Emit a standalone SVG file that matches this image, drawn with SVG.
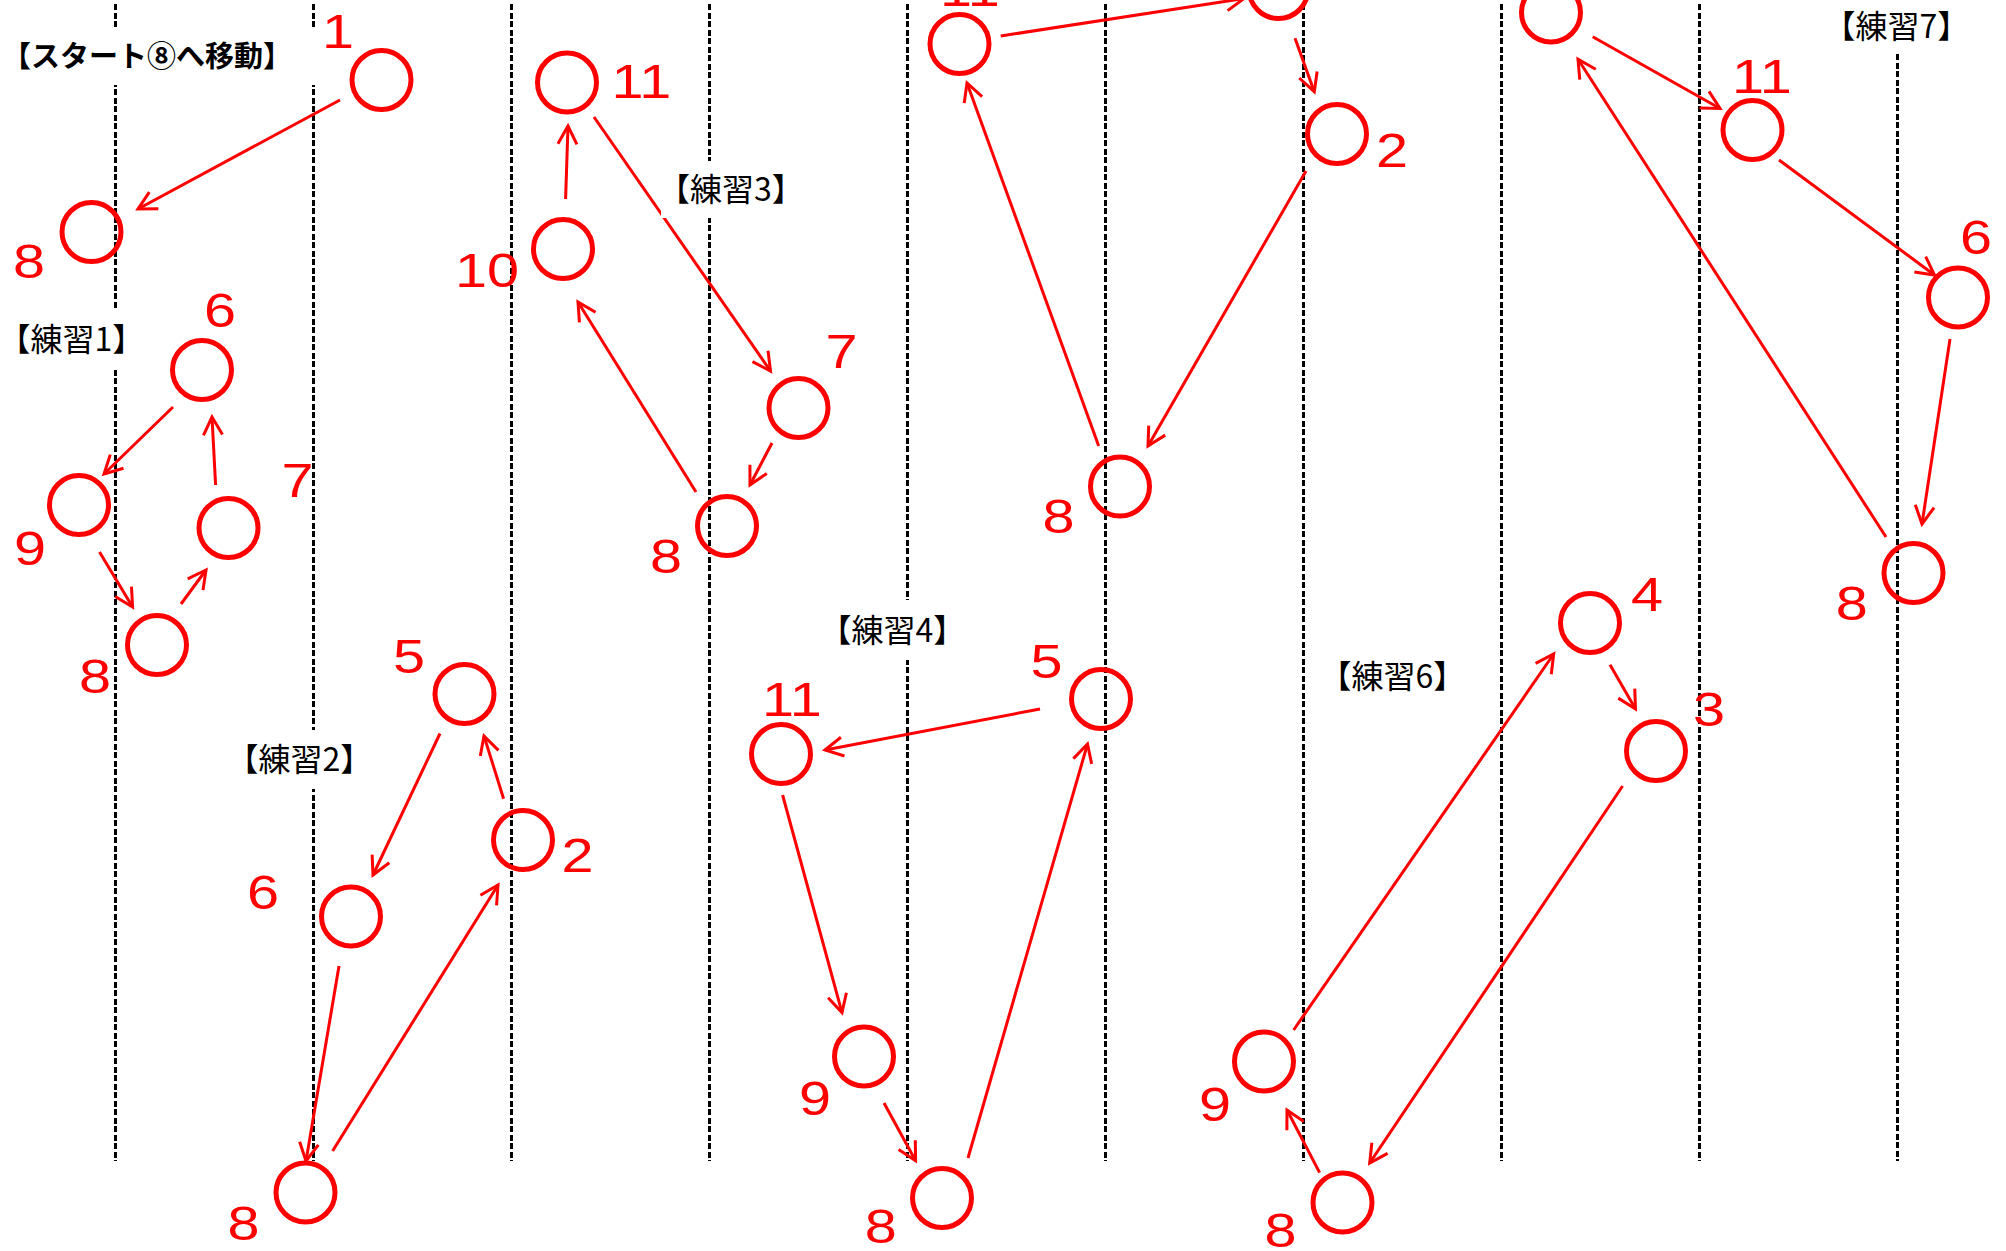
<svg xmlns="http://www.w3.org/2000/svg" width="2006" height="1251" viewBox="0 0 2006 1251">
<style>
.grid line{stroke:#000;stroke-width:3;stroke-dasharray:6 2.5;shape-rendering:crispEdges}
.conn line{stroke:#f00;stroke-width:3;fill:none;marker-end:url(#ah)}
.node circle{fill:none;stroke:#f00;stroke-width:5}
.lbl{font-family:"Liberation Sans",Arial,sans-serif;font-size:48px;fill:#f00;text-anchor:middle}
.ttl{font-family:"Noto Sans CJK JP","Noto Sans CJK SC",sans-serif;font-size:32px;fill:#000}
.bold{font-weight:bold;font-size:29px}
.box{fill:#fff}
</style>
<defs>
<marker id="ah" markerUnits="userSpaceOnUse" orient="auto" refX="0" refY="0" markerWidth="40" markerHeight="40" viewBox="-25 -20 40 40" overflow="visible">
<path d="M-18,-9.5 L0,0 L-18,9.5" fill="none" stroke="#f00" stroke-width="3"/>
</marker>
</defs>
<rect width="2006" height="1251" fill="#fff"/>
<g id="grid" class="grid">
<line x1="115.5" y1="4" x2="115.5" y2="1161"/>
<line x1="313.5" y1="4" x2="313.5" y2="1161"/>
<line x1="511.5" y1="4" x2="511.5" y2="1161"/>
<line x1="709.5" y1="4" x2="709.5" y2="1161"/>
<line x1="907.5" y1="4" x2="907.5" y2="1161"/>
<line x1="1105.5" y1="4" x2="1105.5" y2="1161"/>
<line x1="1303.5" y1="4" x2="1303.5" y2="1161"/>
<line x1="1501.5" y1="4" x2="1501.5" y2="1161"/>
<line x1="1699.5" y1="4" x2="1699.5" y2="1161"/>
<line x1="1897.5" y1="54" x2="1897.5" y2="1161"/>
</g>
<g id="connectors" class="conn">
<line x1="340" y1="100" x2="138" y2="209"/>
<line x1="173" y1="407" x2="104" y2="474"/>
<line x1="215.6" y1="485" x2="212" y2="417"/>
<line x1="99.5" y1="552" x2="132.6" y2="607"/>
<line x1="181" y1="604" x2="206" y2="570"/>
<line x1="440" y1="733.5" x2="373" y2="875"/>
<line x1="503.6" y1="798.7" x2="484" y2="736"/>
<line x1="339" y1="966" x2="306" y2="1161"/>
<line x1="332.6" y1="1151" x2="498" y2="885"/>
<line x1="565.6" y1="199" x2="568" y2="126"/>
<line x1="594" y1="117" x2="770.5" y2="371"/>
<line x1="772" y1="443" x2="750" y2="485"/>
<line x1="696" y1="492" x2="578" y2="302"/>
<line x1="1040" y1="709" x2="825" y2="750"/>
<line x1="782.6" y1="795" x2="842" y2="1012.6"/>
<line x1="884" y1="1103" x2="915.6" y2="1160.7"/>
<line x1="968" y1="1158" x2="1087.5" y2="744"/>
<line x1="1000.7" y1="36" x2="1244" y2="-1.5"/>
<line x1="1295" y1="38.3" x2="1314.3" y2="91.7"/>
<line x1="1306" y1="171" x2="1148" y2="446"/>
<line x1="1098.7" y1="446" x2="967" y2="83"/>
<line x1="1610" y1="664.7" x2="1635.5" y2="709"/>
<line x1="1622.6" y1="786" x2="1369.7" y2="1163"/>
<line x1="1319.6" y1="1172.6" x2="1287" y2="1110"/>
<line x1="1293.6" y1="1030" x2="1553.7" y2="654"/>
<line x1="1592.7" y1="36.7" x2="1720" y2="108.5"/>
<line x1="1779" y1="160" x2="1934.5" y2="275"/>
<line x1="1950" y1="339" x2="1922" y2="524"/>
<line x1="1886" y1="537" x2="1578" y2="59.3"/>
</g>
<g id="nodes">
<g id="start-1" class="node"><circle cx="381.5" cy="80" r="29.5"/><text class="lbl" transform="translate(338 48) scale(1.2 1)">1</text></g>
<g id="start-8" class="node"><circle cx="91.5" cy="232" r="29.5"/><text class="lbl" transform="translate(29 278) scale(1.2 1)">8</text></g>
<g id="p1-6" class="node"><circle cx="202" cy="370" r="29.5"/><text class="lbl" transform="translate(220 327) scale(1.2 1)">6</text></g>
<g id="p1-9" class="node"><circle cx="79" cy="505" r="29.5"/><text class="lbl" transform="translate(30 565) scale(1.2 1)">9</text></g>
<g id="p1-7" class="node"><circle cx="228.5" cy="528" r="29.5"/><text class="lbl" transform="translate(297.5 497) scale(1.2 1)">7</text></g>
<g id="p1-8" class="node"><circle cx="157" cy="645" r="29.5"/><text class="lbl" transform="translate(95 693) scale(1.2 1)">8</text></g>
<g id="p2-5" class="node"><circle cx="464.5" cy="694" r="29.5"/><text class="lbl" transform="translate(409 673) scale(1.2 1)">5</text></g>
<g id="p2-2" class="node"><circle cx="523" cy="840" r="29.5"/><text class="lbl" transform="translate(577.5 872) scale(1.2 1)">2</text></g>
<g id="p2-6" class="node"><circle cx="351" cy="916.5" r="29.5"/><text class="lbl" transform="translate(263 909) scale(1.2 1)">6</text></g>
<g id="p2-8" class="node"><circle cx="305.5" cy="1192.5" r="29.5"/><text class="lbl" transform="translate(243.5 1240) scale(1.2 1)">8</text></g>
<g id="p3-11" class="node"><circle cx="567" cy="82.5" r="29.5"/><text class="lbl" transform="translate(641.5 98) scale(1.2 1)">11</text></g>
<g id="p3-10" class="node"><circle cx="563" cy="249" r="29.5"/><text class="lbl" transform="translate(487 287) scale(1.2 1)">10</text></g>
<g id="p3-7" class="node"><circle cx="798.5" cy="408" r="29.5"/><text class="lbl" transform="translate(841.5 368) scale(1.2 1)">7</text></g>
<g id="p3-8" class="node"><circle cx="727" cy="526" r="29.5"/><text class="lbl" transform="translate(666 573) scale(1.2 1)">8</text></g>
<g id="p4-5" class="node"><circle cx="1101" cy="699" r="29.5"/><text class="lbl" transform="translate(1046.6 678) scale(1.2 1)">5</text></g>
<g id="p4-11" class="node"><circle cx="781" cy="754" r="29.5"/><text class="lbl" transform="translate(792 716) scale(1.2 1)">11</text></g>
<g id="p4-9" class="node"><circle cx="864" cy="1056.5" r="29.5"/><text class="lbl" transform="translate(815 1115) scale(1.2 1)">9</text></g>
<g id="p4-8" class="node"><circle cx="942" cy="1198" r="29.5"/><text class="lbl" transform="translate(880.7 1243) scale(1.2 1)">8</text></g>
<g id="p5-11" class="node"><circle cx="959.5" cy="44" r="29.5"/><text class="lbl" transform="translate(970 6) scale(1.2 1)">11</text></g>
<g id="p5-top" class="node"><circle cx="1278.5" cy="-11" r="29.5"/></g>
<g id="p5-2" class="node"><circle cx="1337" cy="134" r="29.5"/><text class="lbl" transform="translate(1392 167) scale(1.2 1)">2</text></g>
<g id="p5-8" class="node"><circle cx="1120" cy="486.5" r="29.5"/><text class="lbl" transform="translate(1058.5 533) scale(1.2 1)">8</text></g>
<g id="p6-4" class="node"><circle cx="1590" cy="623" r="29.5"/><text class="lbl" transform="translate(1647 611) scale(1.2 1)">4</text></g>
<g id="p6-3" class="node"><circle cx="1656" cy="751" r="29.5"/><text class="lbl" transform="translate(1709 726) scale(1.2 1)">3</text></g>
<g id="p6-9" class="node"><circle cx="1264" cy="1061.5" r="29.5"/><text class="lbl" transform="translate(1215 1121) scale(1.2 1)">9</text></g>
<g id="p6-8" class="node"><circle cx="1342.5" cy="1202.5" r="29.5"/><text class="lbl" transform="translate(1280.5 1247) scale(1.2 1)">8</text></g>
<g id="p7-top" class="node"><circle cx="1551" cy="12.5" r="29.5"/></g>
<g id="p7-11" class="node"><circle cx="1752.5" cy="130" r="29.5"/><text class="lbl" transform="translate(1762 93) scale(1.2 1)">11</text></g>
<g id="p7-6" class="node"><circle cx="1958" cy="297.5" r="29.5"/><text class="lbl" transform="translate(1976 254) scale(1.2 1)">6</text></g>
<g id="p7-8" class="node"><circle cx="1913.5" cy="573" r="29.5"/><text class="lbl" transform="translate(1851.7 620) scale(1.2 1)">8</text></g>
</g>
<g id="titles">
<g id="t-start"><rect class="box" x="8" y="27" width="316" height="58"/><text class="ttl bold" x="2" y="67">【スタート⑧へ移動】</text></g>
<g id="t-1"><rect class="box" x="8" y="310" width="132" height="58"/><text class="ttl" x="-1.4" y="351">【練習1】</text></g>
<g id="t-2"><rect class="box" x="236" y="730" width="130" height="59"/><text class="ttl" x="226.6" y="771">【練習2】</text></g>
<g id="t-3"><rect class="box" x="661" y="161" width="140" height="57"/><text class="ttl" x="658" y="201">【練習3】</text></g>
<g id="t-4"><rect class="box" x="828" y="600" width="132" height="60"/><text class="ttl" x="819.6" y="642">【練習4】</text></g>
<g id="t-6"><text class="ttl" x="1319.6" y="688">【練習6】</text></g>
<g id="t-7"><rect class="box" x="1830" y="0" width="135" height="54"/><text class="ttl" x="1823.6" y="38">【練習7】</text></g>
</g>
</svg>
